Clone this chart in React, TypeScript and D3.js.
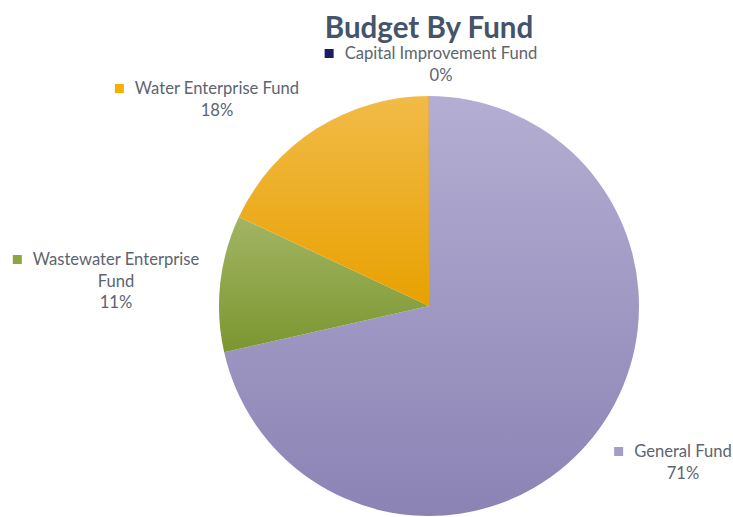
import React, { useEffect, useRef } from 'react';
import * as d3 from 'd3';

const funds = ['General Fund', 'Wastewater Enterprise Fund', 'Water Enterprise Fund', 'Capital Improvement Fund'];
const amounts = [71.4, 10.5, 18.0, 0.01];
const colorsTop = ['#b4aed3', '#a2b563', '#f1bb48', '#2a2a7a'];
const colorsBottom = ['#8b83b4', '#7b9630', '#e8a100', '#1a1a5e'];
const swatches = ['#a49dc8', '#8ea63f', '#f5b000', '#1c1c64'];

// label lines and where each label block sits (x center, first baseline)
const labelLines = [['General Fund'], ['Wastewater Enterprise', 'Fund'], ['Water Enterprise Fund'], ['Capital Improvement Fund']];
const labelPos = [[683, 457], [116, 265], [217, 94], [441, 59]];

const BudgetPie = () => {
  const ref = useRef(null);

  useEffect(() => {
    const width = 733;
    const height = 517;
    const radius = 210;
    const cx = 429;
    const cy = 306;

    d3.select(ref.current).selectAll('*').remove();

    const svg = d3
      .select(ref.current)
      .append('svg')
      .attr('width', width)
      .attr('height', height)
      .style('position', 'absolute')
      .style('left', '0px')
      .style('top', '0px')
      .style('background', '#ffffff');

    const data = funds.map((f, i) => ({ fund: f, value: amounts[i], i }));
    const total = d3.sum(amounts);

    const defs = svg.append('defs');
    data.forEach(d => {
      const g = defs
        .append('linearGradient')
        .attr('id', `grad${d.i}`)
        .attr('x1', 0)
        .attr('y1', 0)
        .attr('x2', 0)
        .attr('y2', 1);
      g.append('stop').attr('offset', '0%').attr('stop-color', colorsTop[d.i]);
      g.append('stop').attr('offset', '100%').attr('stop-color', colorsBottom[d.i]);
    });

    const pie = d3.pie().sort(null).value(d => d.value);
    const arc = d3.arc().innerRadius(0).outerRadius(radius);

    const g = svg.append('g').attr('transform', `translate(${cx},${cy})`);

    g.selectAll('path')
      .data(pie(data))
      .enter()
      .append('path')
      .attr('d', arc)
      .attr('fill', d => `url(#grad${d.data.i})`)
      .attr('stroke', 'none');

    svg
      .append('text')
      .attr('x', cx)
      .attr('y', 38)
      .attr('text-anchor', 'middle')
      .style('font-family', 'Lato, "Open Sans", sans-serif')
      .style('font-weight', 'bold')
      .style('font-size', '29.5px')
      .style('fill', '#44546a')
      .text('Budget By Fund');

    const lineH = 21.5;
    data.forEach(d => {
      const [lx, ly] = labelPos[d.i];
      const lines = labelLines[d.i];
      const lg = svg.append('g');
      const pct = `${Math.round((d.value / total) * 100)}%`;
      const all = [...lines, pct];
      const texts = all.map((t, k) =>
        lg
          .append('text')
          .attr('x', lx)
          .attr('y', ly + k * lineH)
          .attr('text-anchor', 'middle')
          .style('font-family', 'Lato, "Open Sans", sans-serif')
          .style('font-size', '16.6px')
          .style('fill', '#5d6470')
          .text(t)
      );
      const w = texts[0].node().getComputedTextLength();
      lg.append('rect')
        .attr('x', lx - w / 2 - 20)
        .attr('y', ly - 10)
        .attr('width', 9)
        .attr('height', 9)
        .attr('fill', swatches[d.i]);
    });
  }, []);

  return <div ref={ref}></div>;
};

export default function App() {
  return <BudgetPie />;
}
